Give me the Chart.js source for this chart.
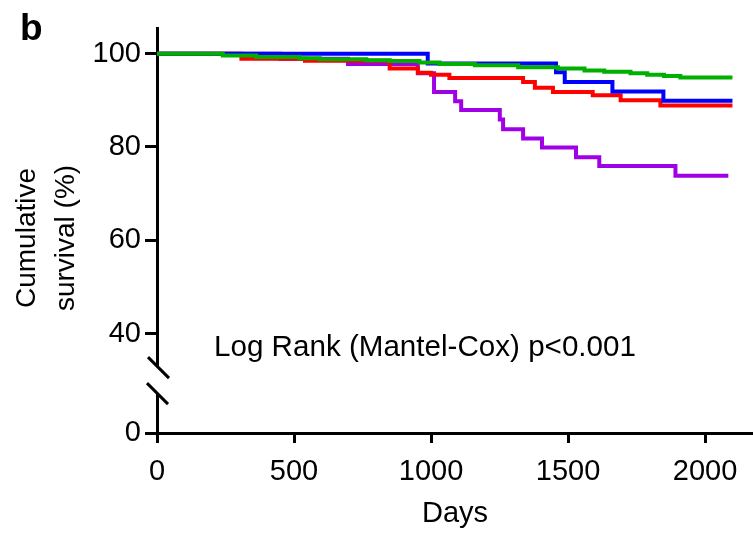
<!DOCTYPE html>
<html>
<head>
<meta charset="utf-8">
<script src="https://cdn.jsdelivr.net/npm/chart.js@4"></script>
<style>
  body { margin: 0; background: #fff; }
  #wrap { width: 753px; height: 533px; }
</style>
</head>
<body>
<div id="wrap"><canvas id="survivalChart" width="753" height="533"></canvas></div>
<script>
// Kaplan-Meier steps (day of event, survival % after it)
const greenDays = [0, 240, 362, 520, 594, 764, 849, 958, 1031, 1160, 1318, 1463, 1560, 1632, 1728, 1789, 1850, 1910, 2100];
const greenSurv = [100, 99.6, 99.3, 99.0, 98.8, 98.6, 98.4, 98.1, 97.8, 97.5, 97.1, 96.8, 96.4, 96.1, 95.8, 95.5, 95.2, 94.9, 94.9];

const blueDays = [0, 988, 1456, 1488, 1662, 1848, 2100];
const blueSurv = [100, 97.9, 96.0, 93.9, 91.9, 89.9, 89.9];

const redDays = [0, 308, 540, 849, 952, 1000, 1067, 1336, 1379, 1445, 1590, 1692, 1837, 2100];
const redSurv = [100, 98.9, 98.5, 96.8, 95.9, 95.5, 94.8, 93.9, 92.7, 91.8, 91.1, 90.0, 88.9, 88.9];

const purpleDays = [0, 450, 697, 952, 1011, 1088, 1110, 1251, 1263, 1336, 1405, 1529, 1614, 1892, 2085];
const purpleSurv = [100, 98.9, 97.8, 95.8, 91.8, 89.8, 87.9, 85.9, 83.8, 81.8, 79.9, 77.8, 75.9, 73.8, 73.8];

const xTicks = [0, 500, 1000, 1500, 2000];
const yTicksUpper = [40, 50, 60, 70, 80, 90, 100];
const yLabelled = [40, 60, 80, 100];
const yTicksLower = [0];

const annotationText = 'Log Rank (Mantel-Cox) p<0.001';
const yTitleLines = ['Cumulative', 'survival (%)'];
const panelLetter = 'b';

const FONT = '"Liberation Sans", Arial, sans-serif';

function toPoints(days, surv) {
    return days.map((d, i) => ({ x: d, y: surv[i] }));
}

function curve(days, surv, color) {
    return {
        data: toPoints(days, surv),
        borderColor: color,
        borderWidth: 4,
        stepped: 'before',
        pointRadius: 0,
        fill: false,
        yAxisID: 'y'
    };
}

// axis break, y title, annotation and panel letter
const extras = {
    id: 'extras',
    afterDraw(chart) {
        const ctx = chart.ctx;
        const yUp = chart.scales.y;
        const xs = chart.scales.x;
        const ax = xs.left;
        const yb = yUp.bottom;

        ctx.save();
        ctx.fillStyle = '#fff';
        ctx.fillRect(ax - 5, yb - 13, 10, 26);
        ctx.strokeStyle = '#000';
        ctx.lineWidth = 3;
        ctx.beginPath();
        ctx.moveTo(ax - 9, yb - 23);
        ctx.lineTo(ax + 12, yb - 2);
        ctx.moveTo(ax - 10, yb + 3);
        ctx.lineTo(ax + 11, yb + 24);
        ctx.stroke();

        ctx.fillStyle = '#000';
        ctx.font = '28px ' + FONT;
        ctx.textAlign = 'center';
        ctx.textBaseline = 'alphabetic';
        ctx.save();
        ctx.translate(35, 238);
        ctx.rotate(-Math.PI / 2);
        ctx.fillText(yTitleLines[0], 0, 0);
        ctx.restore();
        ctx.save();
        ctx.translate(74, 238);
        ctx.rotate(-Math.PI / 2);
        ctx.fillText(yTitleLines[1], 0, 0);
        ctx.restore();

        ctx.textAlign = 'left';
        ctx.font = '29.6px ' + FONT;
        ctx.fillText(annotationText, 214, 356);

        ctx.font = 'bold 37px ' + FONT;
        ctx.fillText(panelLetter, 20, 40);
        ctx.restore();
    }
};

const axisGrid = { drawOnChartArea: false, color: '#000', lineWidth: 3, tickLength: 12 };
const axisBorder = { display: true, color: '#000', width: 3 };
const tickFont = { family: FONT, size: 29 };

new Chart(document.getElementById('survivalChart').getContext('2d'), {
    type: 'line',
    data: {
        datasets: [
            curve(greenDays, greenSurv, '#00b000'),
            curve(blueDays, blueSurv, '#0000ff'),
            curve(redDays, redSurv, '#ff0000'),
            curve(purpleDays, purpleSurv, '#a000e6')
        ]
    },
    options: {
        responsive: false,
        animation: false,
        layout: { padding: { top: 28, left: 0, right: 0, bottom: 0 } },
        plugins: { legend: { display: false }, tooltip: { enabled: false } },
        scales: {
            x: {
                type: 'linear',
                min: 0,
                max: 2175,
                grid: { drawOnChartArea: false, color: '#000', lineWidth: 3, tickLength: 10 },
                border: axisBorder,
                afterBuildTicks: s => { s.ticks = xTicks.map(v => ({ value: v })); },
                afterFit: s => { s.height = 100; },
                ticks: { color: '#000', font: tickFont, padding: 12, maxRotation: 0, callback: v => String(v) },
                title: { display: true, text: 'Days', color: '#000', font: { family: FONT, size: 29 }, padding: { top: 0, bottom: 2 } }
            },
            y: {
                type: 'linear',
                position: 'left',
                stack: 'survival',
                stackWeight: 20,
                weight: 2,
                min: 30,
                max: 105.5,
                grid: axisGrid,
                border: axisBorder,
                afterBuildTicks: s => { s.ticks = yTicksUpper.map(v => ({ value: v })); },
                afterFit: s => { s.width = 157; },
                ticks: {
                    color: '#000', font: tickFont, padding: 4,
                    callback: v => yLabelled.includes(v) ? String(v) : ''
                }
            },
            yLow: {
                type: 'linear',
                position: 'left',
                stack: 'survival',
                stackWeight: 3,
                weight: 1,
                min: 0,
                max: 10,
                grid: axisGrid,
                border: axisBorder,
                afterBuildTicks: s => { s.ticks = yTicksLower.map(v => ({ value: v })); },
                afterFit: s => { s.width = 157; },
                ticks: { color: '#000', font: tickFont, padding: 4, callback: v => String(v) }
            }
        }
    },
    plugins: [extras]
});
</script>
</body>
</html>
